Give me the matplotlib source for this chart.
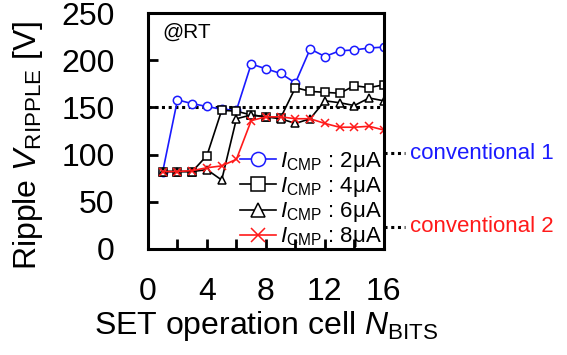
import matplotlib

matplotlib.use("Agg")
import matplotlib.pyplot as plt
from matplotlib.lines import Line2D
from matplotlib.ticker import MultipleLocator

# Data
n_bits = list(range(1, 17))
ripple_2ua = [82, 158, 154, 151, 148, 147, 196, 191, 186, 176, 212, 204, 210, 211, 213, 214]
ripple_4ua = [82, 82, 82, 99, 147, 146, 142, 140, 139, 171, 167, 166, 165, 173, 171, 174]
ripple_6ua = [82, 82, 82, 84, 73, 138, 142, 140, 138, 133, 138, 157, 155, 152, 160, 157]
ripple_8ua = [82, 82, 83, 86, 88, 95, 136, 140, 140, 138, 138, 133, 129, 129, 130, 126]
conventional = 150

series = [
    (ripple_2ua, "o", "#1a1aff", "2μA"),
    (ripple_4ua, "s", "black", "4μA"),
    (ripple_6ua, "^", "black", "6μA"),
    (ripple_8ua, "x", "#ff1a1a", "8μA"),
]

plt.rcParams["font.family"] = "Liberation Sans"
plt.rcParams["mathtext.fontset"] = "custom"
plt.rcParams["mathtext.rm"] = "Liberation Sans"
plt.rcParams["mathtext.it"] = "Liberation Sans:italic"

fig = plt.figure(figsize=(5.67, 3.55), dpi=100)
ax = fig.add_axes([0.261, 0.299, 0.416, 0.664])

# Data lines
for vals, mk, col, lbl in series:
    ax.plot(
        n_bits,
        vals,
        marker=mk,
        color=col,
        markerfacecolor="white" if mk != "x" else col,
        markeredgecolor=col,
        markersize=6,
        markeredgewidth=1.1,
        lw=1.2,
        label=r"$I_{\rm CMP}$ : " + lbl,
    )

# Conventional reference line
ax.axhline(conventional, color="black", ls=(0, (1, 1.2)), lw=2.2, zorder=1)

ax.set_xlim(0, 16)
ax.set_ylim(0, 250)
ax.xaxis.set_major_locator(MultipleLocator(4))
ax.xaxis.set_minor_locator(MultipleLocator(2))
ax.yaxis.set_major_locator(MultipleLocator(50))
ax.tick_params(which="both", direction="in", length=7, width=2)
ax.tick_params(axis="y", labelsize=23, pad=24)
ax.tick_params(axis="x", labelsize=23, pad=20)
for sp in ax.spines.values():
    sp.set_linewidth(2.2)

ax.set_ylabel(r"Ripple $V_{\rm RIPPLE}$ [V]", fontsize=23)
ax.yaxis.set_label_coords(-0.435, 0.44)
ax.set_xlabel(r"SET operation cell $N_{\rm BITS}$", fontsize=23, labelpad=2)

ax.text(0.06, 0.92, "@RT", transform=ax.transAxes, fontsize=15, va="center")

leg = ax.legend(
    loc="lower right",
    bbox_to_anchor=(1.03, -0.04),
    frameon=False,
    fontsize=16,
    handlelength=1.6,
    handletextpad=0.2,
    labelspacing=0.05,
    markerscale=1.7,
    borderaxespad=0,
)

# Side notes with dotted leaders
for yfrac, txt, col in [(0.405, "conventional 1", "#1a1aff"), (0.093, "conventional 2", "#ff1a1a")]:
    ax.add_line(
        Line2D([1.0, 1.09], [yfrac, yfrac], transform=ax.transAxes, color="black",
               ls=(0, (1, 1.2)), lw=2.2, clip_on=False)
    )
    ax.text(1.11, yfrac, txt, transform=ax.transAxes, color=col, fontsize=16, va="center")

fig.savefig("out.png", dpi=100)
